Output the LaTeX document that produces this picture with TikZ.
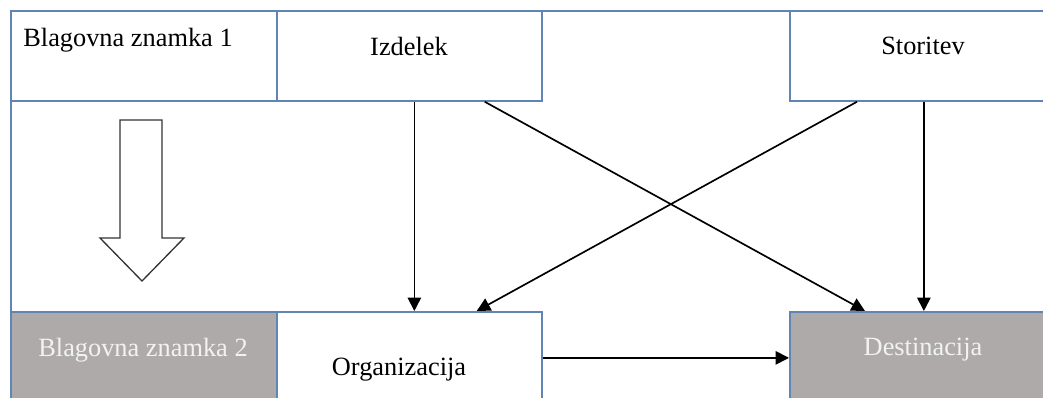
\documentclass[tikz,border=0pt]{standalone}
\usepackage{fontspec}
\setmainfont{Liberation Serif}
\usetikzlibrary{arrows.meta,calc}
\definecolor{boxblue}{RGB}{96,133,180}
\definecolor{boxgray}{RGB}{174,170,170}
\definecolor{softwhite}{RGB}{242,242,242}

\begin{document}
\begin{tikzpicture}[x=0.02cm, y=-0.02cm,
  box/.style={draw=boxblue, line width=1pt, fill=white, anchor=north west, inner sep=0pt, minimum height=1.8cm},
  greybox/.style={box, fill=boxgray, minimum height=1.84cm},
  lbl/.style={anchor=base, inner sep=0pt, font=\fontsize{15}{18}\selectfont},
  conn/.style={line width=0.95pt, -{Triangle[length=0.27cm, width=0.27cm]}}]
\useasboundingbox (0,0) rectangle (1043,398);
\clip (0,0) rectangle (1043,398);

% Frame
\node[box, minimum width=21cm, minimum height=8.4cm] (frame) at (10,10) {};

% Top row
\node[box, minimum width=5.32cm] (bz1) at (10,10) {};
\node[box, minimum width=5.3cm] (izd) at (276,10) {};
\node[box, minimum width=5.36cm] (sto) at (789,10) {};

% Bottom row
\node[greybox, minimum width=5.32cm] (bz2) at (10,311) {};
\node[box, minimum width=5.3cm, minimum height=1.84cm] (org) at (276,311) {};
\node[greybox, minimum width=5.36cm] (dest) at (789,311) {};

% Labels
\node[lbl, anchor=base west] (bz1t) at (23,47) {Blagovna znamka 1};
\node[lbl] (izdt) at (409,56) {Izdelek};
\node[lbl] (stot) at (923,55) {Storitev};
\node[lbl, text=softwhite] (bz2t) at (143,356) {Blagovna znamka 2};
\node[lbl] (orgt) at (399,375) {Organizacija};
\node[lbl, text=softwhite] (destt) at (923,355) {Destinacija};

% Hollow arrow
\draw[line width=0.75pt, draw=black!80, fill=white] (120,120) -- (162,120) -- (162,238) -- (184,238) -- (142,281) -- (100,238) -- (120,238) -- cycle;

% Connectors
\draw[conn] ($(izd.south)+(5,0)$) -- ($(org.north)+(5,0)$);
\draw[conn] ($(izd.south east)+(-58,0)$) -- ($(dest.north west)+(76,0)$);
\draw[conn] ($(sto.south west)+(68,0)$) -- ($(org.north east)+(-66,0)$);
\draw[conn] (sto.south) -- (dest.north);
\draw[conn] (org.east) -- (dest.west);
\end{tikzpicture}
\end{document}
